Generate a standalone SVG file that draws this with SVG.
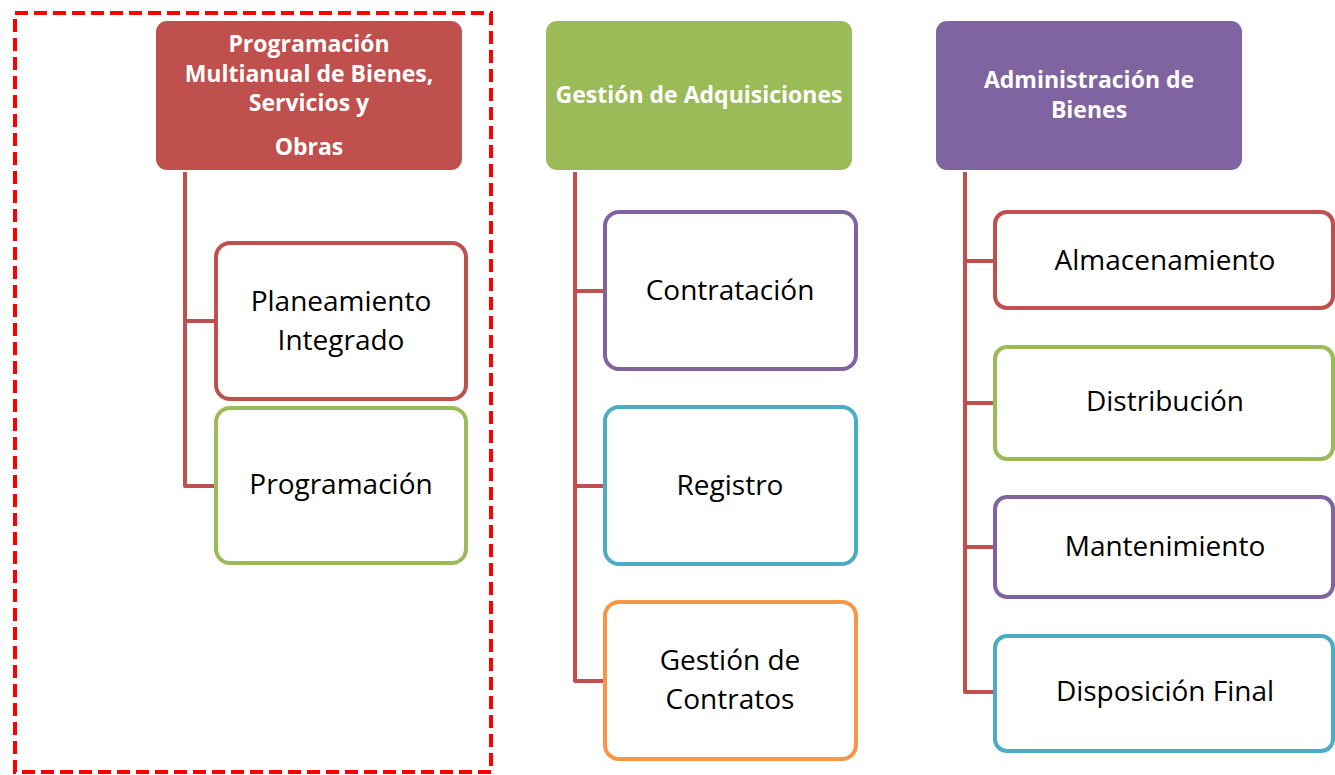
<svg xmlns="http://www.w3.org/2000/svg" width="1335" height="775" viewBox="0 0 1335 775">
<style>
.hdr{stroke:none}
.ht{font-family:"Open Sans","Liberation Sans",sans-serif;font-weight:bold;font-size:23px;fill:#fff;text-anchor:middle}
.ch{fill:#fff;stroke-width:4}
.ct{font-family:"Open Sans","Liberation Sans",sans-serif;font-size:28px;fill:#000;text-anchor:middle}
.con{fill:none;stroke:#C0504D;stroke-width:4;stroke-linejoin:round}
</style>
<rect width="1335" height="775" fill="#fff"/>
<rect id="frame" x="15" y="13" width="476" height="759" fill="none" stroke="#FF0000" stroke-width="4" stroke-dasharray="13 6"/>
<g id="connectors">
<path class="con" d="M185 172V486H216M185 321H216"/>
<path class="con" d="M575 172V681H605M575 291H605M575 486H605"/>
<path class="con" d="M965 172V692H995M965 261H995M965 403H995M965 547H995"/>
</g>
<g id="h1"><rect class="hdr" x="156" y="21" width="306" height="149" rx="11" fill="#C0504D"/>
<text class="ht"><tspan x="309" y="52">Programación</tspan><tspan x="309" y="82">Multianual de Bienes,</tspan><tspan x="309" y="111">Servicios y</tspan><tspan x="309" y="155">Obras</tspan></text></g>
<g id="h2"><rect class="hdr" x="546" y="21" width="306" height="149" rx="11" fill="#9BBB59"/>
<text class="ht" x="699" y="103">Gestión de Adquisiciones</text></g>
<g id="h3"><rect class="hdr" x="936" y="21" width="306" height="149" rx="11" fill="#8064A2"/>
<text class="ht"><tspan x="1089" y="88">Administración de</tspan><tspan x="1089" y="118">Bienes</tspan></text></g>
<g id="c1"><rect class="ch" x="216" y="243" width="250" height="156" rx="14" stroke="#C0504D"/>
<text class="ct"><tspan x="341" y="311">Planeamiento</tspan><tspan x="341" y="350">Integrado</tspan></text></g>
<g id="c2"><rect class="ch" x="216" y="408" width="250" height="155" rx="14" stroke="#9BBB59"/>
<text class="ct" x="341" y="494">Programación</text></g>
<g id="c3"><rect class="ch" x="605" y="212" width="251" height="157" rx="14" stroke="#8064A2"/>
<text class="ct" x="730" y="300">Contratación</text></g>
<g id="c4"><rect class="ch" x="605" y="407" width="251" height="157" rx="14" stroke="#4BACC6"/>
<text class="ct" x="730" y="495">Registro</text></g>
<g id="c5"><rect class="ch" x="605" y="602" width="251" height="157" rx="14" stroke="#F79646"/>
<text class="ct"><tspan x="730" y="670">Gestión de</tspan><tspan x="730" y="709">Contratos</tspan></text></g>
<g id="c6"><rect class="ch" x="995" y="212" width="338" height="96" rx="12" stroke="#C0504D"/>
<text class="ct" x="1165" y="270">Almacenamiento</text></g>
<g id="c7"><rect class="ch" x="995" y="347" width="338" height="112" rx="12" stroke="#9BBB59"/>
<text class="ct" x="1165" y="411">Distribución</text></g>
<g id="c8"><rect class="ch" x="995" y="497" width="338" height="100" rx="12" stroke="#8064A2"/>
<text class="ct" x="1165" y="556">Mantenimiento</text></g>
<g id="c9"><rect class="ch" x="995" y="636" width="338" height="115" rx="12" stroke="#4BACC6"/>
<text class="ct" x="1165" y="701">Disposición Final</text></g>
</svg>
